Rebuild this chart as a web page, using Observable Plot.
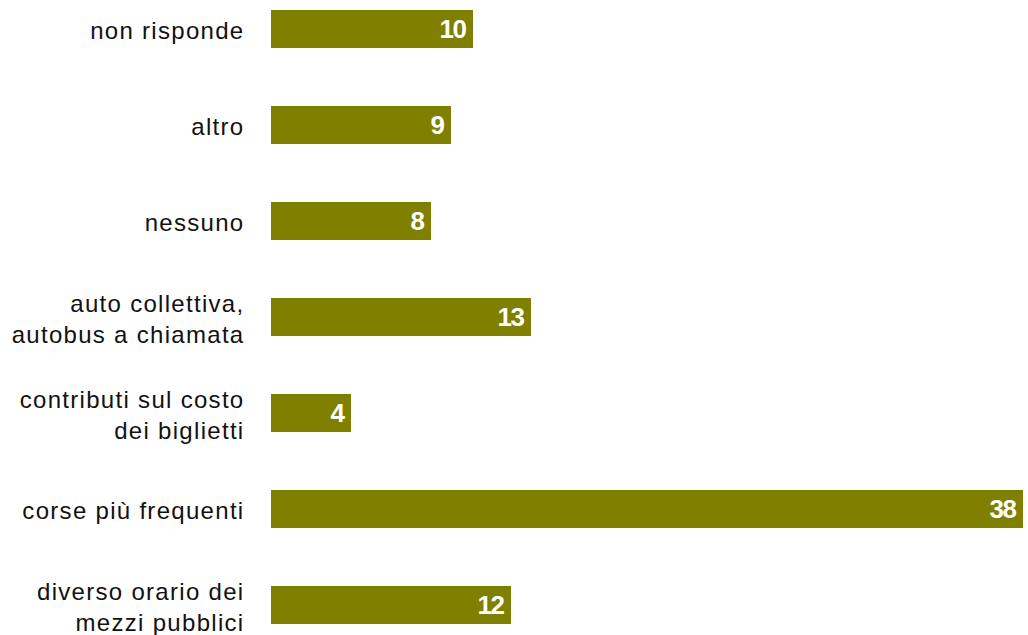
<!DOCTYPE html>
<html>
<head>
<meta charset="utf-8">
<script src="https://cdn.jsdelivr.net/npm/d3@7"></script>
<script src="https://cdn.jsdelivr.net/npm/@observablehq/plot@0.6"></script>
<style>
  html, body { margin: 0; padding: 0; background: #fff; }
  .cat text { letter-spacing: 1.3px; }
  .val text { letter-spacing: -1.5px; }
</style>
</head>
<body>
<div id="chart"></div>
<script>
const categories = [
  "non risponde",
  "altro",
  "nessuno",
  "auto collettiva,\nautobus a chiamata",
  "contributi sul costo\ndei biglietti",
  "corse più frequenti",
  "diverso orario dei\nmezzi pubblici"
];
const values = [10.1, 9, 8, 13, 4, 37.6, 12];
const valueLabels = ["10", "9", "8", "13", "4", "38", "12"];

const data = categories.map((c, i) => ({category: c, value: values[i], label: valueLabels[i]}));

const chart = Plot.plot({
  width: 1028,
  height: 635,
  marginLeft: 271,
  marginRight: 0,
  marginTop: 0,
  marginBottom: 1,
  style: {fontFamily: "'Liberation Sans', Arial, sans-serif", background: "#fff", overflow: "visible"},
  x: {domain: [0, 37.85], axis: null},
  y: {domain: categories, paddingInner: 0.6, paddingOuter: 0.1, axis: null},
  marks: [
    Plot.barX(data, {x: "value", y: "category", fill: "#808000"}),
    Plot.text(data, {
      y: "category", text: "category", frameAnchor: "left", textAnchor: "end",
      dx: -27, fontSize: 24, lineHeight: 1.3, fill: "#111", className: "cat"
    }),
    Plot.text(data, {
      x: "value", y: "category", text: "label", textAnchor: "end", dx: -8,
      fill: "#fff", fontWeight: "bold", fontSize: 26, className: "val"
    })
  ]
});
document.getElementById("chart").appendChild(chart);
</script>
</body>
</html>
